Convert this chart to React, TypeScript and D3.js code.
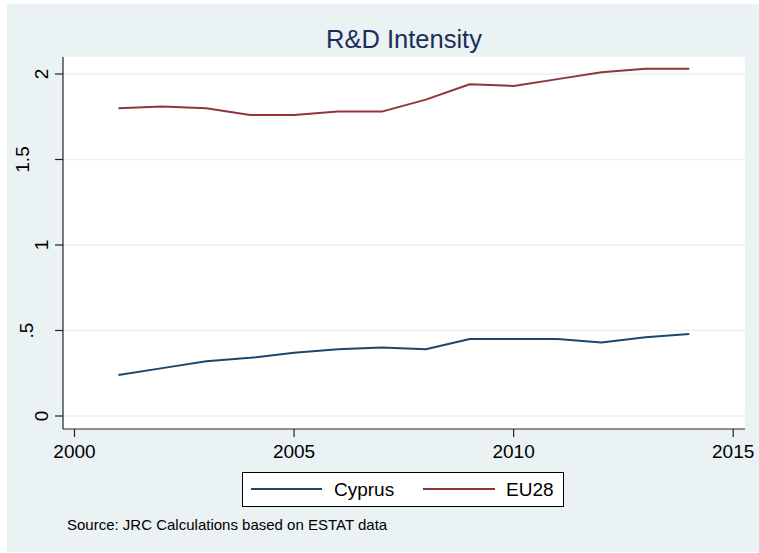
import React from 'react';
import * as d3 from 'd3';

const W = 759;
const H = 553;

const years = [2001, 2002, 2003, 2004, 2005, 2006, 2007, 2008, 2009, 2010, 2011, 2012, 2013, 2014];
const cyprus = [0.24, 0.28, 0.32, 0.34, 0.37, 0.39, 0.4, 0.39, 0.45, 0.45, 0.45, 0.43, 0.46, 0.48];
const eu28 = [1.8, 1.81, 1.8, 1.76, 1.76, 1.78, 1.78, 1.85, 1.94, 1.93, 1.97, 2.01, 2.03, 2.03];
const xTicks = [2000, 2005, 2010, 2015];
const yTicks = [0, 0.5, 1, 1.5, 2];
const yTickLabels = ['0', '.5', '1', '1.5', '2'];

const FONT = 'Liberation Sans, Arial, sans-serif';
const BG = '#EAF2F3';
const NAVY = '#1A476F';
const MAROON = '#90353B';

const PLOT = { left: 63, right: 745, top: 57, bottom: 429 };

// Stata pushes longer rotated labels further away from the axis
const labelShift = (s: string) => (s.length === 1 ? 0 : s.length === 2 ? 15 : 19);

export default function App() {
  const x = d3.scaleLinear().domain([2000, 2015]).range([74.5, 733.2]);
  const y = d3.scaleLinear().domain([0, 2]).range([416, 74]);

  const line = d3
    .line<[number, number]>()
    .x((d) => x(d[0]))
    .y((d) => y(d[1]));

  const series = [
    { name: 'Cyprus', values: cyprus, color: NAVY },
    { name: 'EU28', values: eu28, color: MAROON },
  ];

  return (
    <svg width={W} height={H} style={{ position: 'absolute', left: 0, top: 0 }}>
      <rect x={7} y={4} width={W - 7} height={548} fill={BG} />
      <rect
        x={PLOT.left}
        y={PLOT.top}
        width={PLOT.right - PLOT.left}
        height={PLOT.bottom - PLOT.top}
        fill="#fff"
      />
      {/* gridlines */}
      {yTicks.map((t) => (
        <line
          key={`g${t}`}
          x1={PLOT.left}
          x2={PLOT.right}
          y1={y(t)}
          y2={y(t)}
          stroke={BG}
          strokeWidth={1.5}
        />
      ))}
      <text x={404} y={48} textAnchor="middle" fontFamily={FONT} fontSize={25.5} fill="#1C2D5A">
        R&amp;D Intensity
      </text>
      {/* lines */}
      {series.map((s) => (
        <path
          key={s.name}
          d={line(years.map((yr, i) => [yr, s.values[i]] as [number, number])) ?? ''}
          fill="none"
          stroke={s.color}
          strokeWidth={2}
          strokeLinejoin="round"
        />
      ))}
      {/* y axis */}
      <line x1={PLOT.left} x2={PLOT.left} y1={PLOT.top} y2={PLOT.bottom} stroke="#222" strokeWidth={1.2} />
      {yTicks.map((t, i) => (
        <g key={`y${t}`}>
          <line x1={PLOT.left - 8} x2={PLOT.left} y1={y(t)} y2={y(t)} stroke="#222" strokeWidth={1.2} />
          <text
            transform={`translate(${PLOT.left - 15 - labelShift(yTickLabels[i])},${y(t)}) rotate(-90)`}
            textAnchor="middle"
            fontFamily={FONT}
            fontSize={19}
            fill="#000"
          >
            {yTickLabels[i]}
          </text>
        </g>
      ))}
      {/* x axis */}
      <line x1={PLOT.left} x2={PLOT.right} y1={PLOT.bottom} y2={PLOT.bottom} stroke="#222" strokeWidth={1.2} />
      {xTicks.map((t) => (
        <g key={`x${t}`}>
          <line x1={x(t)} x2={x(t)} y1={PLOT.bottom} y2={PLOT.bottom + 8} stroke="#222" strokeWidth={1.2} />
          <text x={x(t)} y={458} textAnchor="middle" fontFamily={FONT} fontSize={19} fill="#000">
            {t}
          </text>
        </g>
      ))}
      {/* legend */}
      <rect x={242.5} y={472.5} width={321} height={34} fill="#fff" stroke="#000" strokeWidth={1} />
      <line x1={251} x2={322} y1={489} y2={489} stroke={NAVY} strokeWidth={2} />
      <text x={334} y={496} fontFamily={FONT} fontSize={19} fill="#000">
        Cyprus
      </text>
      <line x1={423} x2={495} y1={489} y2={489} stroke={MAROON} strokeWidth={2} />
      <text x={506} y={496} fontFamily={FONT} fontSize={19} fill="#000">
        EU28
      </text>
      <text x={67} y={530} fontFamily={FONT} fontSize={15} fill="#000">
        Source: JRC Calculations based on ESTAT data
      </text>
    </svg>
  );
}
